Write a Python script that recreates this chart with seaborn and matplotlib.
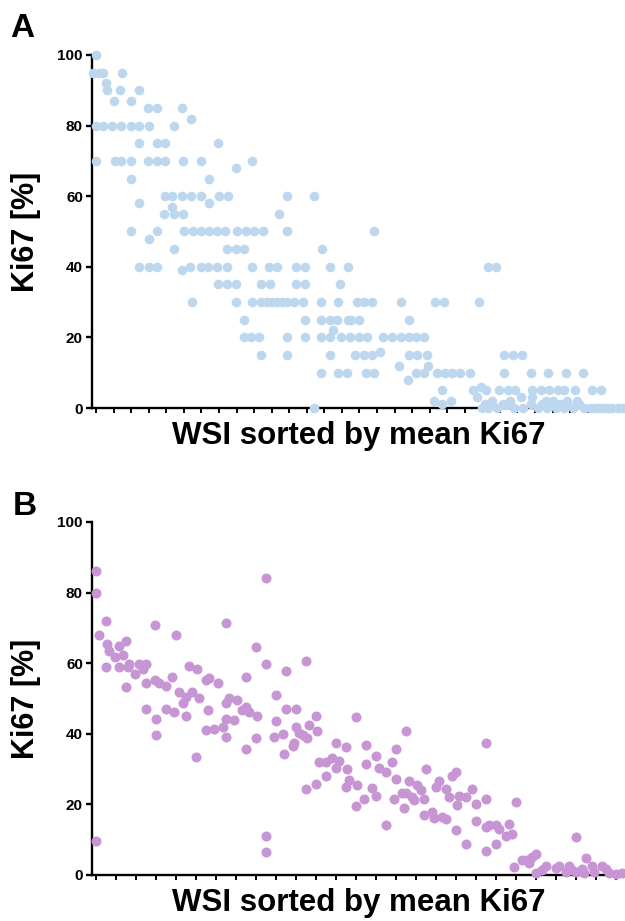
import numpy as np
import pandas as pd
import seaborn as sns
import matplotlib.pyplot as plt

# Panel A: individual Ki67 scores, x = WSI rank (sorted by mean Ki67)
a_x = [0, -0.3, 0.3, 0.8, 3.0, 1.1, 1.2, 2.7, 4.9, 2.0, 4.0, 5.9, 6.9, 9.8, 10.8,
       0, 0.8, 1.8, 2.9, 4.0, 4.9, 6.0, 8.9,
       4.9, 6.9, 7.9, 13.9,
       0, 2.2, 2.9, 4.0, 5.9, 6.9, 7.9, 9.9, 11.9, 17.8,
       15.9, 4.0, 12.9,
       7.9, 8.7, 9.8, 10.8, 11.9, 14.0, 15.0, 21.8, 24.8,
       4.9, 12.9, 8.7,
       7.7, 8.9, 9.9, 20.8,
       4.0, 6.9, 10.0, 11.1, 12.0, 12.9, 13.8, 14.7, 16.0, 17.1, 18.0, 19.0, 21.7, 31.7,
       6.0,
       8.9, 14.9, 15.9, 16.8, 25.7,
       4.9, 6.0, 6.9, 10.7, 11.9, 12.8, 13.8, 14.9, 17.8, 19.7, 20.6, 22.8, 23.8, 26.7, 28.7, 44.6, 45.6,
       9.8,
       13.9, 14.9, 15.9, 18.8, 19.8, 22.8, 23.8, 27.8,
       10.9, 15.9, 17.8, 18.8, 19.5, 20.0, 20.6, 21.2, 21.7, 22.6, 23.6, 25.6, 27.6, 29.7, 30.5, 31.4,
       34.7, 38.6, 39.6, 43.6,
       16.8, 23.8, 25.6, 26.6, 27.5, 28.7, 29.0, 29.9, 35.7,
       27.0,
       16.8, 17.6, 18.6, 21.8, 23.8, 25.6, 26.6, 27.9, 28.9, 29.9, 30.9, 32.7, 33.7, 34.7, 35.7, 36.5, 37.4,
       18.8, 21.8, 26.7, 29.5, 30.5, 31.4, 32.4, 35.6, 36.6, 37.7, 46.5, 47.5, 48.5,
       34.5, 37.8,
       25.6, 27.6, 28.6, 30.7, 31.7, 36.4, 37.4, 38.8, 39.7, 40.6, 41.5, 42.6, 46.5, 49.5, 51.5, 53.5, 55.5,
       35.5, 43.9,
       39.4, 42.9, 44.4, 45.9, 46.9, 47.7, 49.7, 50.7, 51.6, 52.6, 53.3, 54.5, 56.5, 57.5,
       43.4, 38.5, 40.4, 39.4, 24.8,
       44.0, 44.6, 45.1, 45.7, 46.3, 47.2, 47.6, 48.4, 48.6, 49.5, 49.7, 50.3, 51.2, 51.4, 52.0, 52.4,
       53.3, 53.7, 54.3, 54.8, 55.6, 56.3, 57.3, 57.9, 58.8, 60.0,
       44.3, 46.8, 50.8, 52.8, 55.0, 56.8, 58.3, 59.4]
a_y = [100, 95, 95, 95, 95, 92, 90, 90, 90, 87, 87, 85, 85, 85, 82,
       80, 80, 80, 80, 80, 80, 80, 80,
       75, 75, 75, 75,
       70, 70, 70, 70, 70, 70, 70, 70, 70, 70,
       68, 65, 65,
       60, 60, 60, 60, 60, 60, 60, 60, 60,
       58, 58, 57,
       55, 55, 55, 55,
       50, 50, 50, 50, 50, 50, 50, 50, 50, 50, 50, 50, 50, 50,
       48,
       45, 45, 45, 45, 45,
       40, 40, 40, 40, 40, 40, 40, 40, 40, 40, 40, 40, 40, 40, 40, 40, 40,
       39,
       35, 35, 35, 35, 35, 35, 35, 35,
       30, 30, 30, 30, 30, 30, 30, 30, 30, 30, 30, 30, 30, 30, 30, 30,
       30, 30, 30, 30,
       25, 25, 25, 25, 25, 25, 25, 25, 25,
       22,
       20, 20, 20, 20, 20, 20, 20, 20, 20, 20, 20, 20, 20, 20, 20, 20, 20,
       15, 15, 15, 15, 15, 15, 16, 15, 15, 15, 15, 15, 15,
       12, 12,
       10, 10, 10, 10, 10, 10, 10, 10, 10, 10, 10, 10, 10, 10, 10, 10, 10,
       8, 6,
       5, 5, 5, 5, 5, 5, 5, 5, 5, 5, 5, 5, 5, 5,
       3, 2, 2, 1, 0,
       0, 0, 2, 0, 1, 2, 0, 3, 0, 1, 3, 0, 2, 0, 2, 0,
       0, 2, 0, 2, 0, 0, 0, 0, 0, 0,
       1, 1, 1, 1, 1, 0, 0, 0]

# Panel B: automated Ki67 per WSI, same ordering
b_x = [0, 0, 0, 3, 1, 3.4, 4, 5.7, 8, 3, 6.9, 9, 6.9, 9.5, 10, 11.7, 13, 14.2, 15, 14,
       9, 14.9, 17.7, 17.8, 18.8, 20.9, 22.9, 24, 25, 26.9, 27.9, 28.9, 30.4, 30.9,
       32.9, 34, 36.5, 38.9, 39.9, 42.4, 44.9, 47.9, 50.9, 50.9, 53.9, 56.9, 62.9,
       26, 15, 18, 18, 21, 23.4, 27, 30, 33.5, 33, 35.5, 38, 38.9, 38.9, 38.9, 41.5,
       43.9, 44.9, 45.9, 44.9, 47.9, 48.4, 50.9, 50.9, 53.9, 53.4, 56, 56.4, 56.9,
       59, 59.5, 60, 60, 61, 62.2, 63.4, 62.9, 64, 66, 66, 66.4, 66.9,
       69, 70.9, 71.9, 73, 68.9, 71.9, 74.9, 75.4, 75.9, 74.9, 78, 78.4, 78, 80.4,
       80.9, 80.9, 82.9, 83.9, 83.9, 84.9, 86.9, 86.9, 88.9, 89.9, 89.9, 89.4,
       91.9, 92.9, 92.4, 92.9, 93.9, 95.4, 94.9, 96.4, 97.4, 98.4, 98.4, 100.9,
       101.4, 103.9, 104.9, 98.9, 101.9, 102.9, 104.9, 105.9, 106.9, 107.9, 107.9,
       108.4, 108.9, 110.9, 110.9, 112.9, 113.9, 113.9, 116.9, 116.9, 116.9, 117.9,
       116.9, 119.9, 119.9, 120.9, 122.9, 124.9, 123.9, 125.9, 125.4,
       127.9, 128.9, 129.9, 130.9, 131.9, 131.9, 133.9, 134.9, 137.9, 138.9, 140.9,
       141.9, 142.9, 143.9, 143.9, 146.9, 145.9, 146.4, 148.9, 149.4, 151.9, 152.9,
       153.9, 155.9, 157.9]
b_y = [86.2, 79.9, 9.7, 72.0, 68.0, 65.3, 63.3, 61.7, 62.2, 58.9, 64.9, 66.3, 58.9, 58.9, 59.7,
       57.0, 59.7, 58.9, 59.7, 58.3,
       53.2, 54.5, 70.8, 55.1, 54.5, 53.5, 56.0, 68.0, 51.7, 50.5, 59.2, 51.9, 58.3, 50.0,
       55.1, 55.7, 54.3, 71.3, 50.0, 49.6, 56.2, 64.5, 84.2, 59.7, 50.9, 57.7, 60.7,
       48.6, 47.0, 44.1, 39.7, 47.0, 46.1, 45.0, 33.5, 46.6, 41.1, 41.4, 41.8, 39.0, 48.6, 44.1, 43.9,
       46.7, 47.7, 46.1, 35.7, 38.7, 45.0, 10.9, 6.6, 43.6, 39.2, 39.8, 34.3, 47.0,
       36.4, 37.3, 47.0, 42.0, 40.1, 39.7, 38.7, 24.4, 42.5, 45.1, 25.7, 40.9, 32.1,
       32.1, 33.0, 30.2, 32.3, 27.9, 37.3, 36.2, 30.0, 26.9, 25.0, 44.7, 25.5, 19.6, 21.4,
       36.8, 31.3, 24.7, 33.7, 22.4, 30.2, 29.1, 14.2, 32.1, 35.6, 27.2, 21.4,
       23.3, 23.3, 18.9, 40.9, 26.7, 21.1, 22.2, 25.5, 24.1, 21.5, 17.0, 17.9,
       16.1, 16.5, 15.8, 30.0, 24.8, 26.7, 24.3, 22.2, 27.9, 29.3, 12.7,
       19.8, 22.5, 22.2, 8.8, 24.4, 20.1, 15.3, 37.3, 21.5, 13.7, 14.2,
       6.8, 14.2, 8.7, 13.0, 11.0, 11.6, 14.4, 20.8, 2.2,
       4.2, 4.2, 3.5, 5.2, 5.9, 0.5, 1.4, 2.4, 1.9, 2.6, 0.9,
       2.6, 1.4, 0.8, 10.7, 4.7, 1.6, 0.5, 2.5, 0.7, 2.5, 1.6,
       0.5, 0.2, 0.5]

df_a = pd.DataFrame({'wsi': a_x, 'ki67': a_y})
df_b = pd.DataFrame({'wsi': b_x, 'ki67': b_y})

sns.set_style('ticks')
plt.rcParams['font.family'] = ['Liberation Sans', 'DejaVu Sans']
plt.rcParams['font.weight'] = 'bold'
for key in ['text.color', 'axes.labelcolor', 'axes.edgecolor', 'xtick.color', 'ytick.color']:
    plt.rcParams[key] = 'black'

fig = plt.figure(figsize=(6.25, 9.21), dpi=100)
ax_a = fig.add_axes([0.1472, 0.5570, 0.8528, 0.3833])
ax_b = fig.add_axes([0.1472, 0.0500, 0.8528, 0.3833])

sns.scatterplot(data=df_a, x='wsi', y='ki67', ax=ax_a, color='#bcd7ee',
                s=48, linewidth=0, clip_on=False, zorder=3)
sns.scatterplot(data=df_b, x='wsi', y='ki67', ax=ax_b, color='#c795d3',
                s=52, linewidth=0, clip_on=False, zorder=3)


def style(ax, xlim, step):
    ax.set_xlim(*xlim)
    ax.set_ylim(0, 100)
    ax.set_yticks([0, 20, 40, 60, 80, 100])
    ax.set_xticks(np.arange(0, xlim[1], step))
    ax.set_xticklabels([])
    sns.despine(ax=ax)
    for s in ['left', 'bottom']:
        ax.spines[s].set_linewidth(1.7)
        ax.spines[s].set_color('black')
    ax.tick_params(axis='y', length=4.5, width=1.7, pad=2, labelsize=11, colors='black')
    ax.tick_params(axis='x', length=3.5, width=1.4, colors='black')
    for lab in ax.get_yticklabels():
        lab.set_fontweight('bold')
    ax.set_xlabel('WSI sorted by mean Ki67', fontsize=22.5, fontweight='bold', color='black')
    ax.set_ylabel('Ki67 [%]', fontsize=22, fontweight='bold', color='black')
    ax.xaxis.set_label_coords(0.5, -0.037)
    ax.yaxis.set_label_coords(-0.096, 0.5)


style(ax_a, (-0.46, 60.25), 2)
style(ax_b, (-1.2, 158.7), 6)

fig.text(10 / 625, 1 - 37 / 921, 'A', fontsize=24, fontweight='bold', va='baseline')
fig.text(13 / 625, 1 - 515 / 921, 'B', fontsize=24, fontweight='bold', va='baseline')

fig.savefig('out.png', dpi=100)
